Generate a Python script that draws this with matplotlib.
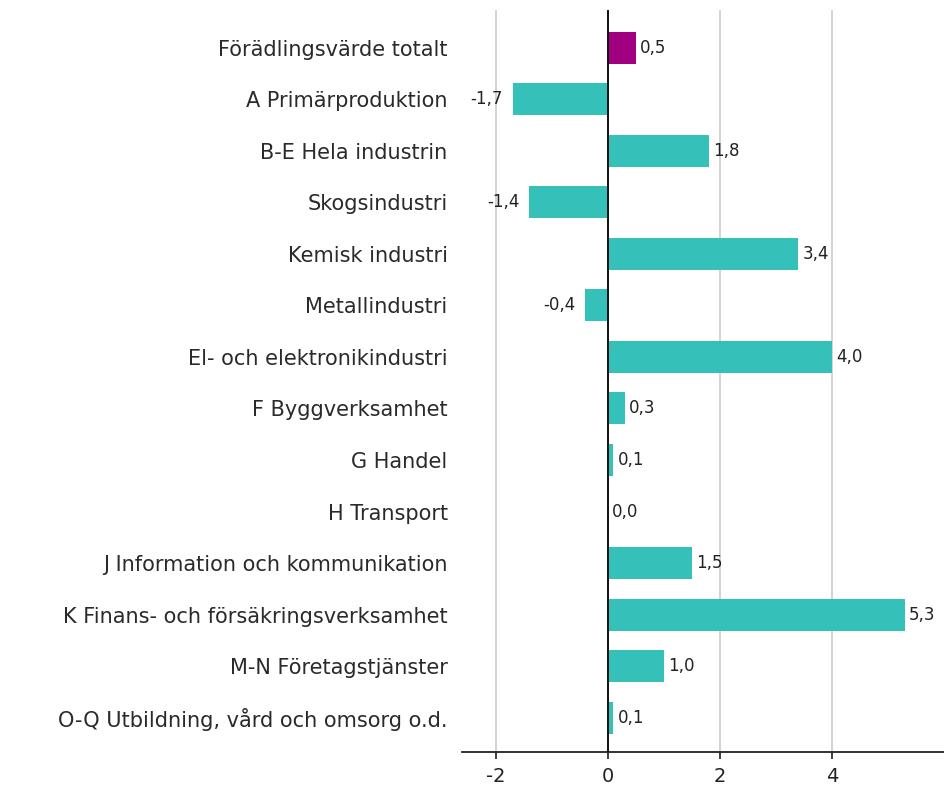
import matplotlib.pyplot as plt

categories = ["Förädlingsvärde totalt", "A Primärproduktion", "B-E Hela industrin",
              "Skogsindustri", "Kemisk industri", "Metallindustri",
              "El- och elektronikindustri", "F Byggverksamhet", "G Handel",
              "H Transport", "J Information och kommunikation",
              "K Finans- och försäkringsverksamhet", "M-N Företagstjänster",
              "O-Q Utbildning, vård och omsorg o.d."]
values = [0.5, -1.7, 1.8, -1.4, 3.4, -0.4, 4.0, 0.3, 0.1, 0.0, 1.5, 5.3, 1.0, 0.1]
xticks = [-2, 0, 2, 4]

teal = "#35c1b9"
purple = "#a0007f"
colors = [purple] + [teal] * (len(values) - 1)

fig = plt.figure(figsize=(9.44, 7.98), dpi=100)
ax = fig.add_axes([0.489, 0.058, 0.511, 0.93])

y = list(range(len(categories)))
ax.barh(y, values, height=0.62, color=colors, zorder=2)
ax.set_ylim(len(categories) - 1 + 0.66, -0.74)
ax.set_xlim(-2.61, 6.0)

for yi, v in zip(y, values):
    txt = f"{v:.1f}".replace(".", ",")
    if v < 0:
        ax.annotate(txt, (v, yi), xytext=(-7, 0), textcoords="offset points",
                    ha="right", va="center", fontsize=12, color="#222222")
    else:
        ax.annotate(txt, (v, yi), xytext=(3, 0), textcoords="offset points",
                    ha="left", va="center", fontsize=12, color="#222222")

ax.set_yticks(y)
ax.set_yticklabels(categories, fontsize=15, color="#2a2a2a")
ax.tick_params(axis="y", length=0, pad=10)
ax.set_xticks(xticks)
ax.set_xticklabels([str(t) for t in xticks], fontsize=14, color="#222222")
ax.tick_params(axis="x", length=5, width=1.2, color="#222222", pad=6)

for s in ["top", "right", "left"]:
    ax.spines[s].set_visible(False)
ax.spines["bottom"].set_linewidth(1.3)
ax.spines["bottom"].set_color("#222222")

ax.grid(axis="x", color="#cccccc", linewidth=1.2, zorder=0)
ax.axvline(0, color="#111111", linewidth=1.4, zorder=3)

fig.savefig("out.png", dpi=100)
